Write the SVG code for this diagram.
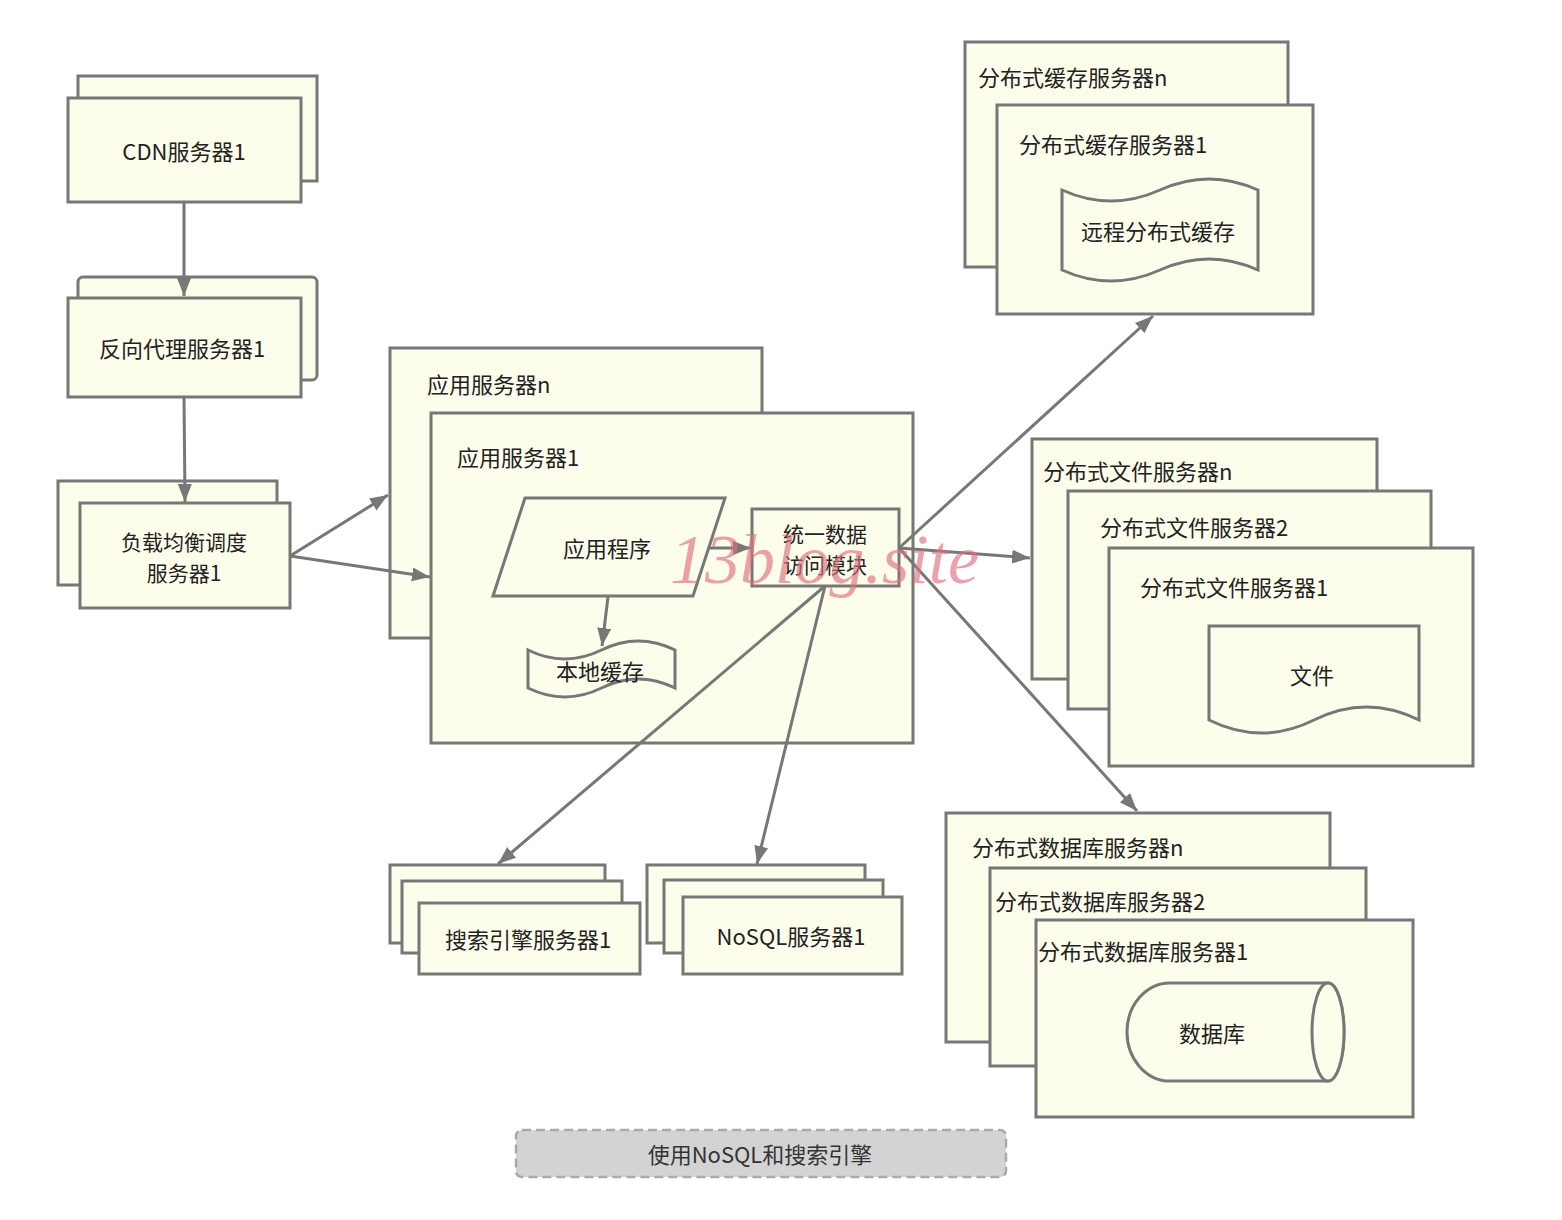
<svg xmlns="http://www.w3.org/2000/svg" width="1562" height="1220" viewBox="0 0 1562 1220">
<defs>
<style>
.n{fill:#fdfdeb;stroke:#777;stroke-width:3}
.t{font-family:"Noto Sans CJK SC","Liberation Sans",sans-serif;font-size:22px;fill:#222}
.s{font-size:21px}
.c{text-anchor:middle}
.e{fill:none;stroke:#777;stroke-width:3}
</style>
<marker id="ah" markerUnits="userSpaceOnUse" markerWidth="20" markerHeight="16" refX="18" refY="7" orient="auto">
<path d="M0,0 L18,7 L0,14 z" fill="#777"/>
</marker>
</defs>
<rect width="1562" height="1220" fill="#fff"/>

<g id="cdn">
<rect class="n" x="78" y="76" width="239" height="105"/>
<rect class="n" x="68" y="98" width="233" height="104"/>
<text class="t c" x="184" y="160">CDN服务器1</text>
</g>

<g id="reverse-proxy">
<rect class="n" x="78" y="277" width="239" height="103" rx="5"/>
<rect class="n" x="68" y="298" width="233" height="99"/>
<text class="t c" x="182" y="357">反向代理服务器1</text>
</g>

<g id="load-balancer">
<rect class="n" x="58" y="481" width="219" height="104"/>
<rect class="n" x="80" y="503" width="210" height="105"/>
<text class="t s c" x="184" y="550">负载均衡调度</text>
<text class="t s c" x="184" y="581">服务器1</text>
</g>

<g id="app-server-n">
<rect class="n" x="390" y="348" width="372" height="290"/>
<text class="t" x="427" y="393">应用服务器n</text>
</g>

<g id="app-server-1">
<rect class="n" x="431" y="413" width="482" height="330"/>
<text class="t" x="457" y="466">应用服务器1</text>
</g>

<g id="app-program">
<polygon class="n" points="525,498 725,498 693,596 493,596"/>
<text class="t c" x="607" y="557">应用程序</text>
</g>

<g id="local-cache">
<path class="n" d="M528,650 Q564.75,668 601.5,650 Q638.25,632 675,650 V688 Q638.25,670 601.5,688 Q564.75,706 528,688 Z"/>
<text class="t c" x="600" y="680">本地缓存</text>
</g>

<g id="data-access">
<rect class="n" x="752" y="509" width="147" height="77"/>
<text class="t s c" x="825" y="542">统一数据</text>
<text class="t s c" x="825" y="573">访问模块</text>
</g>

<g id="cache-server-n">
<rect class="n" x="965" y="42" width="323" height="225"/>
<text class="t" x="978" y="86">分布式缓存服务器n</text>
</g>
<g id="cache-server-1">
<rect class="n" x="997" y="105" width="316" height="209"/>
<text class="t" x="1019" y="153">分布式缓存服务器1</text>
<path class="n" d="M1062,190 Q1111,212 1160,190 Q1209,168 1258,190 V270 Q1209,248 1160,270 Q1111,292 1062,270 Z"/>
<text class="t c" x="1158" y="240">远程分布式缓存</text>
</g>

<g id="file-server-n">
<rect class="n" x="1032" y="439" width="345" height="240"/>
<text class="t" x="1043" y="480">分布式文件服务器n</text>
</g>
<g id="file-server-2">
<rect class="n" x="1068" y="491" width="363" height="218"/>
<text class="t" x="1100" y="536">分布式文件服务器2</text>
</g>
<g id="file-server-1">
<rect class="n" x="1109" y="548" width="364" height="218"/>
<text class="t" x="1140" y="596">分布式文件服务器1</text>
<path class="n" d="M1209,626 H1419 V720 Q1366.5,694 1314,720 Q1261.5,746 1209,720 Z"/>
<text class="t c" x="1312" y="684">文件</text>
</g>

<g id="db-server-n">
<rect class="n" x="946" y="813" width="384" height="229"/>
<text class="t" x="972" y="856">分布式数据库服务器n</text>
</g>
<g id="db-server-2">
<rect class="n" x="990" y="868" width="376" height="198"/>
<text class="t" x="995" y="910">分布式数据库服务器2</text>
</g>
<g id="db-server-1">
<rect class="n" x="1036" y="920" width="377" height="197"/>
<text class="t" x="1038" y="960">分布式数据库服务器1</text>
<path class="n" d="M1170,983 H1328 A16,49 0 0 1 1328,1081 H1170 A43,49 0 0 1 1170,983 Z"/>
<ellipse class="n" cx="1328" cy="1032" rx="16" ry="49"/>
<text class="t c" x="1212" y="1042">数据库</text>
</g>

<g id="search-server">
<rect class="n" x="390" y="865" width="215" height="78"/>
<rect class="n" x="402" y="881" width="220" height="72"/>
<rect class="n" x="419" y="903" width="221" height="71"/>
<text class="t c" x="528" y="948">搜索引擎服务器1</text>
</g>

<g id="nosql-server">
<rect class="n" x="647" y="865" width="218" height="78"/>
<rect class="n" x="664" y="880" width="219" height="73"/>
<rect class="n" x="683" y="897" width="219" height="77"/>
<text class="t c" x="791" y="945">NoSQL服务器1</text>
</g>

<g id="connectors">
<line class="e" x1="184" y1="202" x2="184" y2="296" marker-end="url(#ah)"/>
<line class="e" x1="184" y1="397" x2="185" y2="502" marker-end="url(#ah)"/>
<line class="e" x1="290" y1="556" x2="388" y2="495" marker-end="url(#ah)"/>
<line class="e" x1="290" y1="556" x2="430" y2="577" marker-end="url(#ah)"/>
<line class="e" x1="709" y1="548" x2="751" y2="548" marker-end="url(#ah)"/>
<line class="e" x1="608" y1="597" x2="602" y2="646" marker-end="url(#ah)"/>
<line class="e" x1="899" y1="548" x2="1153" y2="316" marker-end="url(#ah)"/>
<line class="e" x1="899" y1="548" x2="1030" y2="558" marker-end="url(#ah)"/>
<line class="e" x1="899" y1="548" x2="1137" y2="811" marker-end="url(#ah)"/>
<line class="e" x1="825" y1="586" x2="498" y2="864" marker-end="url(#ah)"/>
<line class="e" x1="825" y1="586" x2="757" y2="864" marker-end="url(#ah)"/>
</g>

<g id="caption">
<rect x="516" y="1130" width="490" height="47" rx="6" fill="#d3d3d3" stroke="#aaa" stroke-width="2.5" stroke-dasharray="9,5"/>
<text x="760" y="1163" text-anchor="middle" font-family="Noto Sans CJK SC,Liberation Sans,sans-serif" font-size="22" fill="#333">使用NoSQL和搜索引擎</text>
</g>

<text x="670" y="583" font-family="Liberation Serif,serif" font-style="italic" font-size="70" fill="#e07080" fill-opacity="0.65">13blog.site</text>
</svg>
